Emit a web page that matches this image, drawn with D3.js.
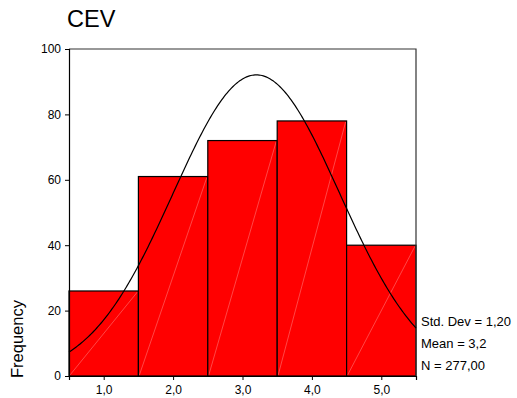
<!DOCTYPE html>
<html>
<head>
<meta charset="utf-8">
<script src="https://cdn.jsdelivr.net/npm/d3@7"></script>
<style>
  html, body { margin: 0; padding: 0; background: #fff; }
  svg text { font-family: "Liberation Sans", Arial, sans-serif; fill: #000; }
</style>
</head>
<body>
<svg id="chart" width="517" height="398"></svg>
<script>
// Histogram of CEV with a fitted normal curve
const binCenters = [1, 2, 3, 4, 5];
const frequencies = [26, 61, 72, 78, 40];
const yTicks = [0, 20, 40, 60, 80, 100];
const xTickLabels = ["1,0", "2,0", "3,0", "4,0", "5,0"];
const statLabels = ["Std. Dev = 1,20", "Mean = 3,2", "N = 277,00"];
const stdDev = 1.20;
const mean = 3.2;
const nTotal = 277;
const binWidth = 1;

const svg = d3.select("#chart");
const plotLeft = 69, plotRight = 416, plotTop = 49, plotBottom = 376;

const x = d3.scaleLinear().domain([0.5, 5.5]).range([plotLeft, plotRight]);
const y = d3.scaleLinear().domain([0, 100]).range([plotBottom, plotTop]);

// Title
svg.append("text").attr("x", 67).attr("y", 27)
  .style("font-size", "23.5px").text("CEV");

// Bars
const bars = svg.append("g");
binCenters.forEach((c, i) => {
  const x0 = x(c - binWidth / 2), x1 = x(c + binWidth / 2);
  const yv = y(frequencies[i]);
  bars.append("rect")
    .attr("x", x0).attr("y", yv)
    .attr("width", x1 - x0).attr("height", plotBottom - yv)
    .attr("fill", "#ff0000");
  // faint diagonal shading line
  bars.append("line")
    .attr("x1", x0 + 1).attr("y1", plotBottom - 1)
    .attr("x2", x1 - 1).attr("y2", yv + 1)
    .attr("stroke", "#ff8c8c").attr("stroke-width", 0.5);
  bars.append("rect")
    .attr("x", x0).attr("y", yv)
    .attr("width", x1 - x0).attr("height", plotBottom - yv)
    .attr("fill", "none").attr("stroke", "#000").attr("stroke-width", 1.2);
});

// Frame (top and right)
svg.append("path")
  .attr("d", `M${plotLeft},${plotTop}H${plotRight}V${plotBottom}`)
  .attr("fill", "none").attr("stroke", "#333").attr("stroke-width", 1.2);

// Normal curve
const peak = nTotal * binWidth / (stdDev * Math.sqrt(2 * Math.PI));
const curvePts = d3.range(0.5, 5.5001, 0.02).map(v => [v, peak * Math.exp(-((v - mean) ** 2) / (2 * stdDev * stdDev))]);
svg.append("path")
  .datum(curvePts)
  .attr("d", d3.line().x(d => x(d[0])).y(d => y(d[1])))
  .attr("fill", "none").attr("stroke", "#000").attr("stroke-width", 1.2);

// Y axis
const yAxis = svg.append("g").attr("transform", `translate(${plotLeft},0)`)
  .call(d3.axisLeft(y).tickValues(yTicks).tickSize(4).tickPadding(4).tickFormat(d3.format("d")));
yAxis.select(".domain").attr("stroke", "#000").attr("stroke-width", 1.2);
yAxis.selectAll("line").attr("stroke", "#000");
yAxis.selectAll("text").style("font-size", "12px").style("font-family", "Liberation Sans, Arial, sans-serif");

// X axis
const xAxis = svg.append("g").attr("transform", `translate(0,${plotBottom})`)
  .call(d3.axisBottom(x).tickValues(binCenters).tickSize(4).tickPadding(5)
    .tickFormat((d, i) => xTickLabels[i]));
xAxis.select(".domain").attr("stroke", "#000").attr("stroke-width", 1.2);
xAxis.selectAll("line").attr("stroke", "#000");
xAxis.selectAll("text").style("font-size", "12px").style("font-family", "Liberation Sans, Arial, sans-serif");

// Y axis title
svg.append("text")
  .attr("transform", "translate(23,378) rotate(-90)")
  .attr("text-anchor", "start")
  .style("font-size", "16.5px").text("Frequency");

// Summary statistics
const statY = [326, 348, 370];
statLabels.forEach((t, i) => {
  svg.append("text").attr("x", 421).attr("y", statY[i])
    .style("font-size", "13px").text(t);
});
</script>
</body>
</html>
